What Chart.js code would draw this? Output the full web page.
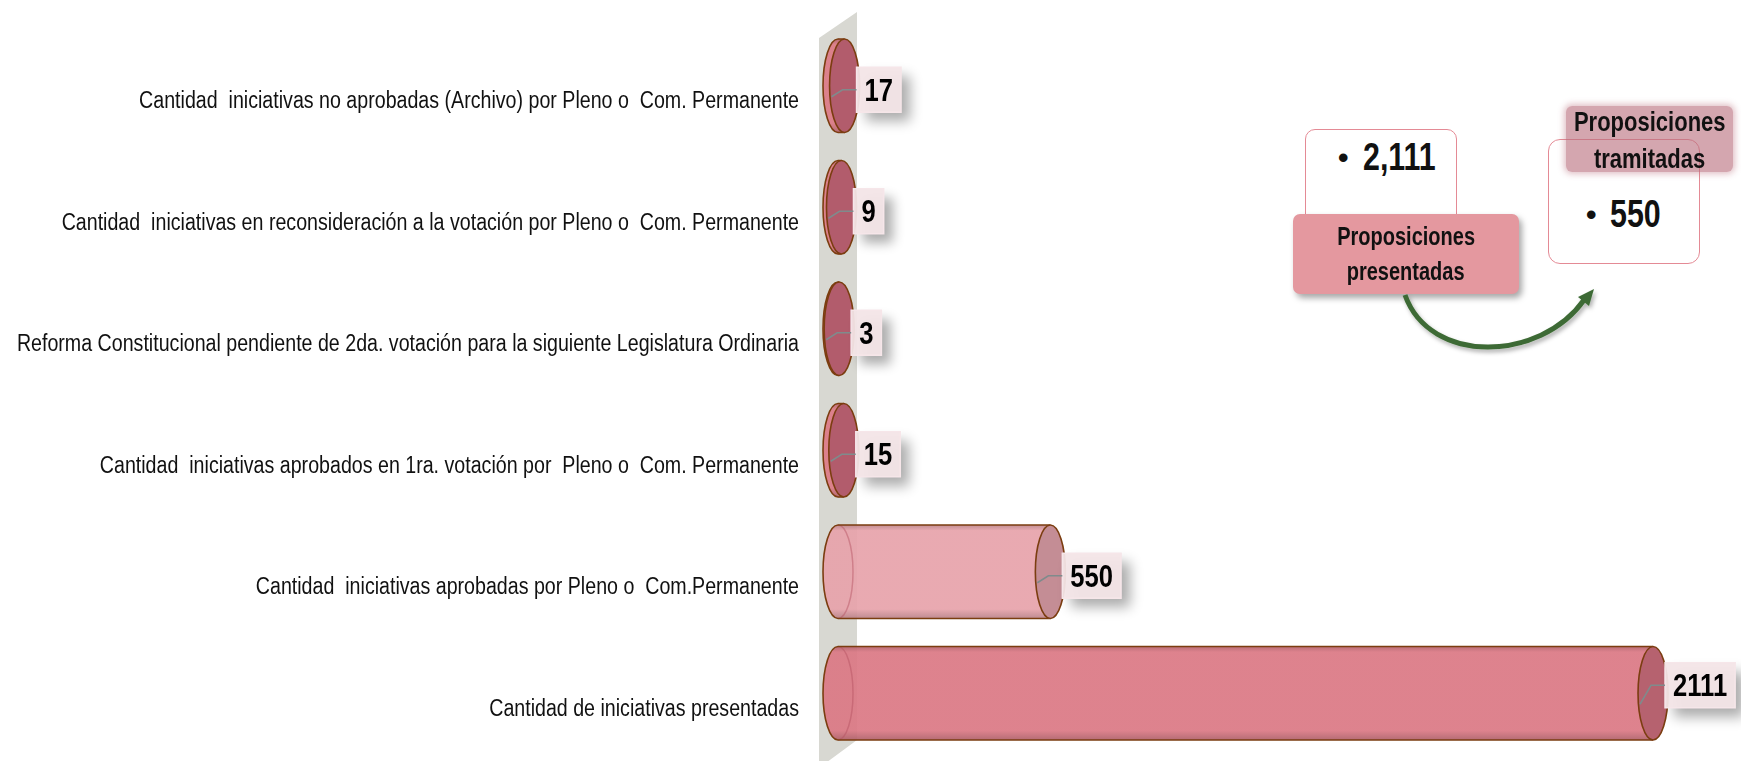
<!DOCTYPE html>
<html><head><meta charset="utf-8">
<script src="https://cdn.jsdelivr.net/npm/chart.js@4.4.1/dist/chart.umd.min.js"></script>
<style>
html,body{margin:0;padding:0;background:#fff;width:1741px;height:761px;overflow:hidden;}
#wrap{position:relative;width:1741px;height:761px;}
#chart{position:absolute;left:0;top:0;}
.nf{font-family:"Liberation Sans","Arial",sans-serif;font-weight:bold;color:#111;}
.sx{display:inline-block;transform:scaleX(0.8);transform-origin:center;}
.sl{transform:scaleX(0.8);transform-origin:left center;}
.box{position:absolute;background:#fff;border:1.5px solid #e48a95;box-sizing:border-box;}
.abs{position:absolute;white-space:nowrap;}
</style></head>
<body><div id="wrap">
<canvas id="chart" width="1741" height="761"></canvas>
<div class="box" style="left:1305px;top:129px;width:152px;height:100px;border-radius:10px;"></div>
<div class="abs nf" style="left:1338px;top:136px;font-size:30px;line-height:44px;">•</div>
<div class="abs nf sl" style="left:1363px;top:135px;font-size:38px;line-height:44px;">2,111</div>
<div class="abs nf" style="left:1293px;top:214px;width:226px;height:80px;background:#e4989f;border-radius:7px;box-shadow:3px 4px 6px rgba(0,0,0,0.35);text-align:center;font-size:25px;line-height:35px;padding-top:5px;box-sizing:border-box;"><span class="sx">Proposiciones</span><br><span class="sx">presentadas</span></div>
<div class="box" style="left:1548px;top:139px;width:152px;height:125px;border-radius:12px;"></div>
<div class="abs nf" style="left:1586px;top:193px;font-size:30px;line-height:44px;">•</div>
<div class="abs nf sl" style="left:1610px;top:192px;font-size:38px;line-height:44px;">550</div>
<div class="abs" style="left:1566px;top:106px;width:167px;height:66px;background:rgba(186,112,126,0.62);border-radius:6px;box-shadow:0 0 6px 2px rgba(186,112,126,0.45);"></div>
<div class="abs nf" style="left:1530px;top:103px;width:240px;text-align:center;font-size:27.5px;line-height:37px;"><span class="sx">Proposiciones</span><br><span class="sx">tramitadas</span></div>
<svg class="abs" style="left:0;top:0;" width="1741" height="761">
  <defs>
    <filter id="sh" x="-20%" y="-20%" width="140%" height="160%"><feDropShadow dx="2" dy="3" stdDeviation="2" flood-color="#000" flood-opacity="0.3"/></filter>
  </defs>
  <g filter="url(#sh)">
    <path d="M1405,295 C1430,365 1540,362 1584,300" fill="none" stroke="#3e6b35" stroke-width="5"/>
    <polygon points="1594,289 1578,297 1589,306" fill="#3e6b35"/>
  </g>
</svg>
</div>
<script>
const categories = [
  "Cantidad  iniciativas no aprobadas (Archivo) por Pleno o  Com. Permanente",
  "Cantidad  iniciativas en reconsideración a la votación por Pleno o  Com. Permanente",
  "Reforma Constitucional pendiente de 2da. votación para la siguiente Legislatura Ordinaria",
  "Cantidad  iniciativas aprobados en 1ra. votación por  Pleno o  Com. Permanente",
  "Cantidad  iniciativas aprobadas por Pleno o  Com.Permanente",
  "Cantidad de iniciativas presentadas"
];
const values = [17, 9, 3, 15, 550, 2111];
const bodyColors = ["#dc7a86", "#dc7a86", "#dc7a86", "#dc7a86", "#e7a3ab", "#db7985"];
const capColors  = ["#b25c6c", "#b25c6c", "#b25c6c", "#b25c6c", "#c48d95", "#b6626f"];
// styling: vertical shift of each data-label box relative to its bar centre
const labelShift = [4, 4, 4, 4, 4, -8];

const FONT = '"Liberation Sans",Arial,sans-serif';
const NARROW = 0.8;

function shade(hex, f){
  const n = parseInt(hex.slice(1),16);
  let r=(n>>16)&255,g=(n>>8)&255,b=n&255;
  r=Math.round(r*f);g=Math.round(g*f);b=Math.round(b*f);
  return `rgb(${r},${g},${b})`;
}

const wallPlugin = {
  id:'wall',
  beforeDatasetsDraw(chart){
    const ctx=chart.ctx, L=chart.chartArea.left;
    ctx.save();
    ctx.fillStyle='#d8d8d2';
    ctx.beginPath();
    ctx.moveTo(L-19,38);ctx.lineTo(L+19,12);ctx.lineTo(L+19,740);ctx.lineTo(L-19,768);ctx.closePath();
    ctx.fill();
    ctx.restore();
  }
};

const labelPlugin = {
  id:'catLabels',
  afterDraw(chart){
    const ctx=chart.ctx, ys=chart.scales.y;
    ctx.save();
    ctx.font='23.5px '+FONT;
    ctx.fillStyle='#111';
    ctx.textAlign='right';ctx.textBaseline='middle';
    chart.data.labels.forEach((lab,i)=>{
      const y=ys.getPixelForTick(i)+16;
      ctx.save();
      ctx.translate(ys.right-39,y);
      ctx.scale(0.835,1);
      ctx.fillText(lab,0,0);
      ctx.restore();
    });
    ctx.restore();
  }
};

const cylPlugin = {
  id:'cyl',
  afterDatasetsDraw(chart){
    const ctx=chart.ctx;
    const meta=chart.getDatasetMeta(0);
    const outline='#7b3d10';
    meta.data.forEach((el,i)=>{
      const x0=el.base, x1=el.x, y=el.y, ry=el.height/2, rx=15;
      const body=bodyColors[i], cap=capColors[i];
      ctx.save();
      const g=ctx.createLinearGradient(0,y-ry,0,y+ry);
      g.addColorStop(0,shade(body,0.82));
      g.addColorStop(0.06,body);
      g.addColorStop(0.9,body);
      g.addColorStop(1,shade(body,0.8));
      ctx.globalAlpha=0.93;
      ctx.fillStyle=g;
      ctx.beginPath();
      ctx.ellipse(x0,y,rx,ry,0,Math.PI/2,Math.PI*1.5);
      ctx.lineTo(x1,y-ry);
      ctx.lineTo(x1,y+ry);
      ctx.closePath();
      ctx.fill();
      ctx.globalAlpha=1;
      ctx.strokeStyle='rgba(180,80,95,0.45)';
      ctx.lineWidth=1.5;
      ctx.beginPath();
      ctx.ellipse(x0,y,rx,ry,0,-Math.PI/2,Math.PI/2);
      ctx.stroke();
      ctx.strokeStyle=outline;
      ctx.lineWidth=1.6;
      ctx.beginPath();
      ctx.ellipse(x0,y,rx,ry,0,Math.PI/2,Math.PI*1.5);
      ctx.lineTo(x1,y-ry);
      ctx.moveTo(x0,y+ry);ctx.lineTo(x1,y+ry);
      ctx.stroke();
      ctx.fillStyle=cap;
      ctx.beginPath();
      ctx.ellipse(x1,y,rx,ry,0,0,Math.PI*2);
      ctx.fill();
      ctx.stroke();
      ctx.restore();

      const txt=String(values[i]);
      const ly=y+labelShift[i];
      ctx.save();
      ctx.font='bold 32px '+FONT;
      const tw=ctx.measureText(txt).width*NARROW;
      const bx=x1+12, bw=tw+16, bh=45, by=ly-bh/2;
      ctx.shadowColor='rgba(0,0,0,0.35)';
      ctx.shadowBlur=12;ctx.shadowOffsetX=9;ctx.shadowOffsetY=9;
      ctx.fillStyle='rgba(243,229,231,0.95)';
      ctx.fillRect(bx,by,bw,bh);
      ctx.shadowColor='transparent';
      ctx.strokeStyle='#f6e6e9';ctx.lineWidth=1.5;
      ctx.strokeRect(bx,by,bw,bh);
      ctx.strokeStyle='#7f8b8c';ctx.lineWidth=1.5;
      ctx.beginPath();
      ctx.moveTo(x1-13,y+11);ctx.lineTo(x1-2,ly);ctx.lineTo(bx,ly);
      ctx.stroke();
      ctx.fillStyle='#000';
      ctx.textBaseline='middle';ctx.textAlign='left';
      ctx.translate(bx+8,ly+2);
      ctx.scale(NARROW,1);
      ctx.fillText(txt,0,0);
      ctx.restore();
    });
  }
};

new Chart(document.getElementById('chart'),{
  type:'bar',
  data:{labels:categories,datasets:[{data:values,backgroundColor:'rgba(0,0,0,0)',borderWidth:0,barPercentage:0.77,categoryPercentage:1}]},
  options:{
    indexAxis:'y',responsive:false,animation:false,
    layout:{padding:{top:25,bottom:7,left:0,right:15}},
    plugins:{legend:{display:false},tooltip:{enabled:false}},
    scales:{
      x:{display:false,min:0,max:2300},
      y:{
        grid:{display:false,drawTicks:false},border:{display:false},
        ticks:{display:false,padding:0},
        afterFit(s){s.width=838;}
      }
    }
  },
  plugins:[wallPlugin,cylPlugin,labelPlugin]
});
</script>
</body></html>
